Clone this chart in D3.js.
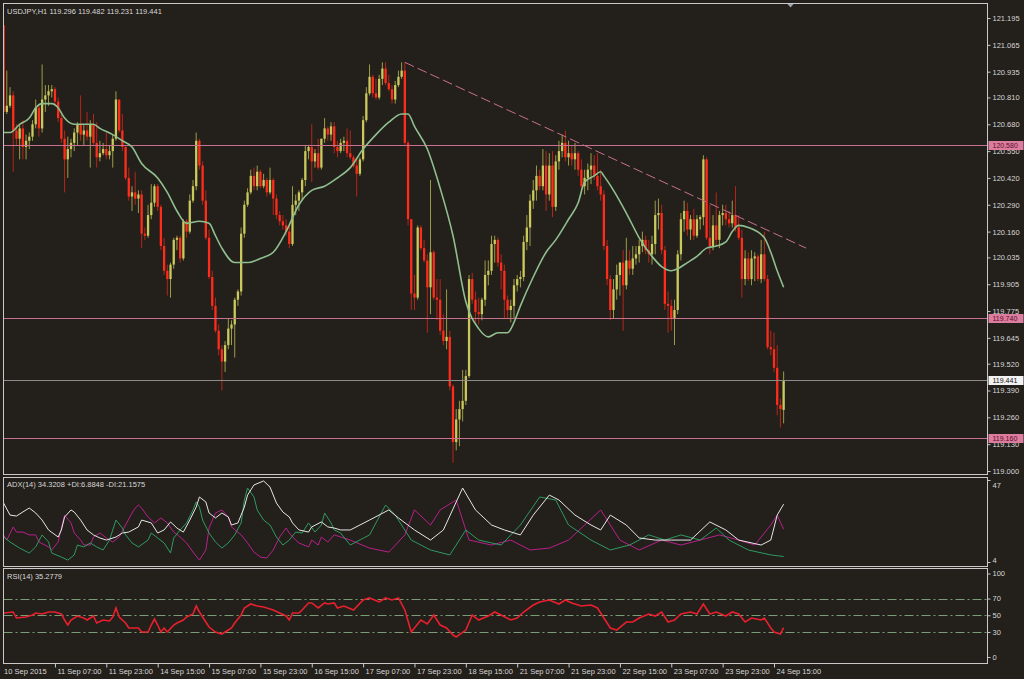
<!DOCTYPE html>
<html>
<head>
<meta charset="utf-8">
<script src="https://cdn.jsdelivr.net/npm/d3@7"></script>
<style>
  body { margin: 0; background: #231f1a; }
  svg text { font-family: "Liberation Sans", Arial, sans-serif; font-size: 7.5px; fill: #d8d8d8; }
</style>
</head>
<body>
<svg id="chart" width="1024" height="679"></svg>
<script>
// USDJPY H1 candles, [open, high, low, close], one per hour from 10 Sep 15:00
const candles = [
[121.16,121.16,120.72,120.74],[120.74,120.94,120.73,120.77],[120.77,120.86,120.76,120.82],[120.82,120.84,120.45,120.65],[120.65,120.68,120.58,120.61],
[120.61,120.68,120.51,120.66],[120.66,120.70,120.51,120.57],[120.57,120.63,120.51,120.60],[120.60,120.64,120.56,120.62],[120.62,120.70,120.60,120.68],
[120.68,120.80,120.66,120.76],[120.76,120.78,120.62,120.66],[120.66,120.97,120.64,120.80],[120.80,120.87,120.74,120.82],[120.82,120.87,120.77,120.84],
[120.84,120.87,120.81,120.85],[120.85,120.86,120.77,120.79],[120.79,120.81,120.69,120.71],[120.71,120.74,120.59,120.61],[120.61,120.65,120.35,120.51],
[120.51,120.62,120.42,120.56],[120.56,120.61,120.52,120.59],[120.59,120.66,120.55,120.64],[120.64,120.69,120.58,120.68],[120.68,120.82,120.60,120.63],
[120.63,120.68,120.58,120.65],[120.65,120.74,120.60,120.62],[120.62,120.70,120.47,120.68],[120.68,120.73,120.58,120.59],[120.59,120.69,120.47,120.52],
[120.52,120.60,120.50,120.54],[120.54,120.59,120.53,120.56],[120.56,120.64,120.51,120.53],[120.53,120.58,120.51,120.55],[120.55,120.63,120.47,120.61],
[120.61,120.84,120.60,120.80],[120.80,120.80,120.64,120.65],[120.65,120.73,120.55,120.57],[120.57,120.58,120.41,120.42],[120.42,120.47,120.31,120.33],
[120.33,120.38,120.26,120.35],[120.35,120.45,120.29,120.32],[120.32,120.36,120.25,120.34],[120.34,120.36,120.08,120.15],[120.15,120.18,120.12,120.14],
[120.14,120.29,120.13,120.24],[120.24,120.39,120.22,120.30],[120.30,120.39,120.28,120.38],[120.38,120.39,120.26,120.28],[120.28,120.29,120.07,120.09],
[120.09,120.13,119.95,119.97],[119.97,120.00,119.85,119.93],[119.93,120.01,119.84,120.00],[120.00,120.13,119.98,120.12],[120.12,120.14,120.07,120.13],
[120.13,120.14,120.01,120.03],[120.03,120.22,120.02,120.21],[120.21,120.22,120.13,120.16],[120.16,120.34,120.15,120.31],[120.31,120.41,120.30,120.38],
[120.38,120.64,120.36,120.60],[120.60,120.61,120.46,120.48],[120.48,120.50,120.29,120.31],[120.31,120.36,120.12,120.13],[120.13,120.17,119.93,119.94],
[119.94,119.97,119.78,119.80],[119.80,119.84,119.67,119.68],[119.68,119.71,119.56,119.59],[119.59,119.61,119.39,119.53],[119.53,119.63,119.48,119.61],
[119.61,119.74,119.59,119.69],[119.69,119.73,119.61,119.71],[119.71,119.84,119.55,119.83],[119.83,119.88,119.80,119.87],[119.87,120.18,119.85,120.15],
[120.15,120.31,120.13,120.29],[120.29,120.37,120.28,120.35],[120.35,120.46,120.34,120.43],[120.43,120.47,120.36,120.38],[120.38,120.48,120.36,120.45],
[120.45,120.46,120.37,120.38],[120.38,120.44,120.37,120.41],[120.41,120.42,120.33,120.35],[120.35,120.47,120.34,120.41],[120.41,120.42,120.24,120.32],
[120.32,120.34,120.22,120.24],[120.24,120.26,120.19,120.21],[120.21,120.24,120.17,120.19],[120.19,120.22,120.14,120.16],[120.16,120.19,120.08,120.10],
[120.10,120.38,120.09,120.29],[120.29,120.34,120.24,120.31],[120.31,120.36,120.26,120.35],[120.35,120.42,120.31,120.41],[120.41,120.58,120.38,120.55],
[120.55,120.58,120.51,120.57],[120.57,120.68,120.40,120.50],[120.50,120.56,120.47,120.54],[120.54,120.61,120.46,120.47],[120.47,120.61,120.46,120.61],
[120.61,120.71,120.59,120.66],[120.66,120.67,120.60,120.63],[120.63,120.69,120.60,120.67],[120.67,120.69,120.54,120.57],[120.57,120.60,120.52,120.55],
[120.55,120.61,120.54,120.59],[120.59,120.62,120.55,120.60],[120.60,120.66,120.52,120.54],[120.54,120.65,120.51,120.52],[120.52,120.53,120.47,120.48],
[120.48,120.51,120.33,120.44],[120.44,120.52,120.43,120.51],[120.51,120.72,120.50,120.70],[120.70,120.86,120.69,120.83],[120.83,120.97,120.82,120.91],
[120.91,120.92,120.81,120.83],[120.83,120.90,120.80,120.81],[120.81,120.92,120.80,120.90],[120.90,120.98,120.87,120.95],[120.95,120.98,120.87,120.88],
[120.88,120.92,120.84,120.85],[120.85,120.87,120.78,120.80],[120.80,120.89,120.78,120.87],[120.87,120.94,120.86,120.91],[120.91,120.98,120.90,120.94],
[120.94,120.98,120.58,120.59],[120.59,120.60,120.19,120.22],[120.22,120.22,119.78,119.86],[119.86,119.95,119.78,119.84],[119.84,120.19,119.83,120.18],
[120.18,120.19,120.07,120.08],[120.08,120.12,120.01,120.02],[120.02,120.05,119.67,119.89],[119.89,120.41,119.76,120.06],[120.06,120.07,119.83,119.84],
[119.84,119.93,119.73,119.83],[119.83,119.93,119.66,119.68],[119.68,119.76,119.61,119.63],[119.63,119.88,119.59,119.65],[119.65,119.68,119.39,119.41],
[119.41,119.42,119.04,119.14],[119.14,119.30,119.10,119.25],[119.25,119.34,119.12,119.30],[119.30,119.49,119.24,119.34],[119.34,119.49,119.32,119.46],
[119.46,119.95,119.45,119.93],[119.93,119.96,119.81,119.83],[119.83,119.87,119.72,119.77],[119.77,119.84,119.71,119.76],[119.76,119.84,119.73,119.83],
[119.83,120.02,119.80,119.95],[119.95,120.02,119.90,119.97],[119.97,120.14,119.95,120.10],[120.10,120.14,120.01,120.12],[120.12,120.13,119.99,120.01],
[120.01,120.05,119.88,119.97],[119.97,120.00,119.74,119.83],[119.83,119.85,119.74,119.78],[119.78,119.83,119.72,119.80],[119.80,119.93,119.74,119.90],
[119.90,119.95,119.87,119.93],[119.93,119.97,119.89,119.94],[119.94,120.14,119.92,120.11],[120.11,120.24,120.07,120.18],[120.18,120.34,120.09,120.31],
[120.31,120.41,120.27,120.36],[120.36,120.48,120.31,120.43],[120.43,120.46,120.36,120.38],[120.38,120.56,120.36,120.48],[120.48,120.55,120.26,120.34],
[120.34,120.54,120.31,120.48],[120.48,120.55,120.23,120.28],[120.28,120.53,120.26,120.50],[120.50,120.60,120.46,120.55],[120.55,120.63,120.52,120.59],
[120.59,120.65,120.50,120.52],[120.52,120.60,120.48,120.54],[120.54,120.58,120.48,120.51],[120.51,120.59,120.46,120.54],[120.54,120.55,120.43,120.46],
[120.46,120.51,120.36,120.38],[120.38,120.46,120.34,120.42],[120.42,120.49,120.36,120.46],[120.46,120.54,120.39,120.48],[120.48,120.53,120.41,120.43],
[120.43,120.54,120.36,120.38],[120.38,120.46,120.31,120.34],[120.34,120.36,120.07,120.09],[120.09,120.12,119.90,119.93],[119.93,119.95,119.73,119.78],
[119.78,119.93,119.74,119.88],[119.88,120.00,119.83,119.95],[119.95,120.01,119.85,120.01],[120.01,120.07,119.68,119.90],[119.90,120.13,119.88,120.02],
[120.02,120.07,119.95,119.98],[119.98,120.09,119.95,120.03],[120.03,120.09,120.00,120.05],[120.05,120.12,120.01,120.09],[120.09,120.16,120.06,120.12],
[120.12,120.14,120.05,120.07],[120.07,120.12,120.01,120.05],[120.05,120.14,120.00,120.10],[120.10,120.31,120.05,120.24],[120.24,120.32,120.17,120.25],
[120.25,120.29,120.05,120.07],[120.07,120.09,119.78,119.81],[119.81,119.87,119.67,119.80],[119.80,119.83,119.68,119.74],[119.74,119.83,119.61,119.78],
[119.78,120.07,119.76,120.05],[120.05,120.25,120.02,120.22],[120.22,120.31,120.16,120.26],[120.26,120.30,120.14,120.17],[120.17,120.24,120.12,120.22],
[120.22,120.27,120.12,120.14],[120.14,120.24,120.13,120.22],[120.22,120.24,120.17,120.23],[120.23,120.53,120.19,120.51],[120.51,120.52,120.12,120.13],
[120.13,120.29,120.05,120.09],[120.09,120.24,120.07,120.19],[120.19,120.35,120.09,120.12],[120.12,120.26,120.08,120.24],[120.24,120.29,120.19,120.25],
[120.25,120.29,120.19,120.22],[120.22,120.26,120.18,120.20],[120.20,120.31,120.18,120.24],[120.24,120.38,120.16,120.18],[120.18,120.24,120.12,120.13],
[120.13,120.17,119.84,119.93],[119.93,120.07,119.90,120.03],[120.03,120.06,119.92,119.93],[119.93,120.07,119.90,120.03],[120.03,120.06,119.92,120.04],
[120.04,120.05,119.92,119.93],[119.93,120.12,119.91,120.05],[120.05,120.16,119.92,119.93],[119.93,119.95,119.59,119.60],[119.60,119.68,119.56,119.59],
[119.59,119.67,119.48,119.50],[119.50,119.61,119.27,119.32],[119.32,119.35,119.21,119.30],[119.296,119.482,119.231,119.441]
];

// moving average, [bar, value]
const maPoints = [[0,120.64],[2,120.64],[5,120.68],[8,120.71],[10,120.76],[12,120.78],[15,120.78],[17,120.76],[19,120.71],[22,120.68],
[28,120.68],[30,120.66],[34,120.63],[37,120.60],[40,120.57],[43,120.49],[48,120.42],[51,120.35],[54,120.26],[57,120.20],[61,120.21],
[64,120.20],[66,120.14],[68,120.08],[72,120.01],[76,120.01],[80,120.03],[84,120.06],[88,120.16],[92,120.29],[96,120.36],[100,120.38],
[104,120.42],[108,120.47],[112,120.56],[116,120.63],[120,120.69],[124,120.73],[126,120.73],[128,120.67],[132,120.56],[136,120.37],
[140,120.14],[144,119.82],[148,119.69],[151,119.65],[154,119.67],[157,119.67],[159,119.72],[161,119.80],[165,119.94],[169,120.06],
[172,120.12],[176,120.22],[179,120.30],[181,120.40],[184,120.43],[186,120.45],[187,120.43],[190,120.36],[194,120.25],[198,120.13],
[202,120.04],[205,119.99],[208,119.97],[210,119.98],[213,120.01],[216,120.04],[219,120.08],[222,120.09],[225,120.11],[227,120.16],
[229,120.19],[232,120.18],[237,120.13],[239,120.06],[241,119.97],[243,119.89]];

// ADX(14) lines, [bar, value]
const adxPoints = [[0,34.9],[2,28.6],[4,28.1],[7,31.3],[8,32.3],[10,29.7],[12,26],[14,20.8],[17,17.1],[18,20.8],[19,27.6],[21,31.3],
[22,30.2],[24,26],[26,20.8],[28,18.2],[30,16.6],[32,15.5],[35,17.1],[37,19.2],[39,19.7],[42,22.4],[43,26],[46,24.5],[48,19.2],[50,20.8],
[52,25],[54,21.8],[56,19.7],[58,26],[60,32.8],[61,38.1],[63,35.5],[64,29.7],[66,27.1],[68,29.7],[70,27.6],[71,23.4],[73,24.5],[75,32.8],
[76,39.1],[78,44.4],[81,46.5],[83,43.3],[85,34.9],[87,30.2],[89,27.6],[90,24.5],[92,20.8],[95,19.7],[96,22.4],[99,25],[101,22.4],[103,21.8],
[105,20.8],[108,20.8],[114,26],[120,31.3],[123,27.1],[128,20.8],[133,15.5],[137,20.8],[143,42.8],[147,31.3],[152,23.4],[156,20.8],
[161,18.2],[165,28.6],[170,39.1],[173,36.5],[178,28.6],[183,23.4],[186,20.8],[189,28.6],[194,23.4],[198,16.6],[203,15.5],[208,15.5],
[214,15.5],[220,25],[225,20.8],[229,15.5],[236,12.9],[239,15.5],[241,28.6],[243,34.32]];
const plusDiPoints = [[0,17.1],[2,14.5],[5,11.3],[8,8.7],[10,11.9],[12,18.2],[14,14.5],[15,8.7],[18,6.6],[20,5],[22,7.7],[23,12.9],
[25,11.9],[27,14],[29,11.9],[31,10.3],[33,15.5],[35,26],[37,21.8],[38,18.2],[40,14],[42,11.9],[45,15.5],[46,19.2],[48,16.6],[50,14],
[52,8.7],[53,16.6],[55,20.8],[57,24.5],[59,31.3],[60,35.5],[61,32.8],[62,26],[64,19.2],[66,14.5],[68,11.3],[70,14],[72,18.2],[74,24.5],
[75,36.5],[76,42.8],[78,38.1],[79,31.3],[81,26],[83,23.4],[85,17.1],[87,12.9],[89,15.5],[91,19.7],[93,19.2],[95,24.5],[97,19.7],[99,23.4],
[100,29.7],[102,24.5],[103,20.8],[105,19.2],[108,12.9],[114,18.2],[119,33.9],[122,28.6],[127,15.5],[133,10.3],[139,7.7],[144,20.8],
[148,15.5],[155,12.9],[161,23.4],[167,38.1],[172,36.5],[176,23.4],[183,15.5],[189,10.3],[195,12.9],[201,18.2],[206,15.5],[211,18.2],
[217,15.5],[222,21.8],[226,15.5],[232,10.3],[239,7.7],[243,6.88]];
const minusDiPoints = [[0,18.2],[1,15.5],[3,22.4],[4,19.7],[6,19.7],[8,18.2],[10,18.2],[11,14.5],[14,11.9],[15,10.3],[17,14.5],[18,21.8],
[19,28.6],[21,24.5],[22,19.2],[24,15.5],[25,12.9],[27,12.9],[28,17.1],[30,19.2],[32,16.6],[34,14.5],[36,17.1],[38,23.4],[40,29.7],[41,32.3],
[42,33.9],[43,32.3],[45,27.6],[47,24.5],[49,27.1],[51,24.5],[53,19.7],[55,17.1],[57,14],[59,9.2],[61,5],[63,10.3],[64,21.8],[66,29.7],
[68,31.3],[70,27.6],[71,22.4],[74,18.2],[76,14],[78,9.2],[80,6.6],[82,6.1],[84,10.3],[86,17.1],[88,21.8],[89,19.2],[91,15.5],[92,14],
[95,11.9],[96,15.5],[98,12.9],[99,17.1],[101,14.5],[103,18.2],[105,17.1],[108,15.5],[114,11.3],[120,9.2],[125,18.2],[128,31.3],[133,23.4],
[136,31.3],[141,36.5],[145,15.5],[152,12.9],[158,15.5],[164,10.3],[170,11.3],[176,15.5],[181,23.4],[186,31.3],[189,23.4],[192,15.5],
[198,10.3],[205,15.5],[211,12.9],[217,15.5],[223,18.2],[229,15.5],[234,12.9],[239,23.4],[241,28.6],[243,21.16]];

// RSI(14), [bar, value]
const rsiPoints = [[0,52.7],[3,53.9],[4,46.7],[7,47.9],[9,50.3],[10,52.7],[12,51.5],[14,53.9],[16,53.9],[18,51.5],[19,44.3],[20,38.3],
[21,44.3],[23,49.1],[25,46.7],[26,44.3],[28,49.1],[29,40.7],[31,44.3],[33,43.1],[34,47.9],[35,58.7],[36,47.9],[38,40.7],[39,34.7],
[42,34.7],[43,29.9],[45,29.9],[46,38.3],[47,45.5],[48,38.3],[49,29.9],[50,34.7],[51,29.9],[53,38.3],[54,40.7],[56,44.3],[57,47.9],
[59,51.5],[60,61.1],[61,53.9],[63,41.9],[64,35.9],[66,29.9],[68,27.5],[70,32.3],[71,34.7],[72,40.7],[74,50.3],[75,58.7],[77,63.5],
[79,61.1],[81,59.9],[82,58.7],[84,56.3],[86,52.7],[88,49.1],[89,44.3],[90,52.7],[92,52.7],[93,56.3],[95,64.7],[96,64.7],[98,58.7],
[100,64.7],[101,63.5],[103,64.7],[104,58.7],[106,61.1],[109,56.3],[112,68.3],[114,70.7],[117,65.9],[119,70.7],[121,68.3],[123,70.7],
[125,56.3],[127,29.9],[128,34.7],[130,44.3],[132,39.5],[134,50.3],[136,38.3],[138,34.7],[140,26.3],[141,24],[144,32.3],[146,50.3],
[148,44.3],[151,49.1],[153,53.9],[155,50.3],[158,44.3],[160,46.7],[162,53.9],[165,62.3],[167,65.9],[170,68.3],[173,63.5],[175,68.3],
[177,64.7],[180,61.1],[183,62.3],[185,58.7],[187,46.7],[189,34.7],[191,32.3],[194,41.9],[196,41.9],[198,46.7],[201,51.5],[203,49.1],
[205,53.9],[207,41.9],[209,44.3],[211,51.5],[214,53.9],[216,51.5],[218,63.5],[220,51.5],[222,53.9],[225,49.1],[227,53.9],[229,51.5],
[231,41.9],[233,46.7],[236,44.3],[237,46.7],[239,34.7],[240,29.9],[242,27.5],[243,35.28]];

const priceTicks = [121.195, 121.065, 120.935, 120.810, 120.680, 120.550, 120.420, 120.290, 120.160,
  120.035, 119.905, 119.775, 119.645, 119.520, 119.390, 119.260, 119.130, 119.000];
const adxTicks = [47, 4];
const rsiTicks = [100, 70, 50, 30, 0];
const rsiLevels = [70, 50, 30];

const timeTickBars = [0, 16, 32, 48, 64, 80, 96, 112, 128, 144, 160, 176, 192, 208, 224, 240];
const timeTickLabels = ["10 Sep 2015", "11 Sep 07:00", "11 Sep 23:00", "14 Sep 15:00", "15 Sep 07:00",
  "15 Sep 23:00", "16 Sep 15:00", "17 Sep 07:00", "17 Sep 23:00", "18 Sep 15:00", "21 Sep 07:00",
  "21 Sep 23:00", "22 Sep 15:00", "23 Sep 07:00", "23 Sep 23:00", "24 Sep 15:00"];

const levelLines = [120.580, 119.740, 119.160];
const lastPrice = 119.441;
const trendLine = [[125, 120.98], [250, 120.08]];

const headerText = "USDJPY,H1  119.296 119.482 119.231 119.441";
const adxText = "ADX(14) 34.3208 +DI:6.8848 -DI:21.1575";
const rsiText = "RSI(14) 35.2779";

// ---------------------------------------------------------------

const svg = d3.select("body").select("svg#chart");

const colors = {
  bg: "#231f1a",
  frame: "#c9c9c9",
  bull: "#c9c95c",
  bullWick: "#9c9c48",
  bear: "#ff2c1b",
  bearWick: "#b3271a",
  ma: "#8fbf8f",
  level: "#c8708f",
  levelBox: "#dc7c9e",
  adx: "#e6e6e6",
  plusDi: "#2f9a62",
  minusDi: "#b81f8c",
  rsi: "#e8202e",
  rsiLevel: "#7a9c74"
};

const frameLeft = 3.5;
const frameRight = 987.5;
const panels = {
  main: { top: 3.5, bottom: 474.5 },
  adx: { top: 477.5, bottom: 566.5 },
  rsi: { top: 568.5, bottom: 663.5 }
};

let x = d3.scaleLinear()
  .domain([0, candles.length - 1])
  .range([3.6, 3.6 + 3.21 * (candles.length - 1)]);

let yPrice = d3.scaleLinear().domain([119, 121.195]).range([471, 18]);
let yAdx = d3.scaleLinear().domain([4, 47]).range([562, 480]);
let yRsi = d3.scaleLinear().domain([0, 100]).range([657, 573.5]);

svg.append("rect").attr("width", 1024).attr("height", 679).attr("fill", colors.bg);

// clip every panel to its frame
let defs = svg.append("defs");
Object.keys(panels).forEach(function(key) {
  let p = panels[key];
  defs.append("clipPath").attr("id", "clip-" + key)
    .append("rect")
    .attr("x", frameLeft + 0.5).attr("y", p.top + 0.5)
    .attr("width", frameRight - frameLeft - 1).attr("height", p.bottom - p.top - 1);
});

/*
 * Main price panel
 */
const mainPlot = svg.append("g").attr("id", "main").attr("clip-path", "url(#clip-main)");

mainPlot.selectAll("line.wick")
  .data(candles)
  .join("line")
  .attr("class", "wick")
  .attr("x1", (d, i) => x(i)).attr("x2", (d, i) => x(i))
  .attr("y1", d => yPrice(d[1])).attr("y2", d => yPrice(d[2]))
  .attr("stroke", d => d[3] >= d[0] ? colors.bullWick : colors.bearWick)
  .attr("stroke-width", 1);

mainPlot.selectAll("rect.body")
  .data(candles)
  .join("rect")
  .attr("class", "body")
  .attr("x", (d, i) => x(i) - 1.15)
  .attr("width", 2.3)
  .attr("y", d => yPrice(Math.max(d[0], d[3])))
  .attr("height", d => Math.max(1, Math.abs(yPrice(d[0]) - yPrice(d[3]))))
  .attr("fill", d => d[3] >= d[0] ? colors.bull : colors.bear);

mainPlot.selectAll("line.level")
  .data(levelLines)
  .join("line")
  .attr("class", "level")
  .attr("x1", frameLeft).attr("x2", frameRight)
  .attr("y1", d => Math.round(yPrice(d)) + 0.5).attr("y2", d => Math.round(yPrice(d)) + 0.5)
  .attr("stroke", colors.level).attr("stroke-width", 1);

mainPlot.append("line")
  .attr("x1", frameLeft).attr("x2", frameRight)
  .attr("y1", Math.round(yPrice(lastPrice)) + 0.5).attr("y2", Math.round(yPrice(lastPrice)) + 0.5)
  .attr("stroke", "#8c8c8c").attr("stroke-width", 1);

mainPlot.append("line")
  .attr("x1", x(trendLine[0][0])).attr("y1", yPrice(trendLine[0][1]))
  .attr("x2", x(trendLine[1][0])).attr("y2", yPrice(trendLine[1][1]))
  .attr("stroke", colors.level).attr("stroke-width", 1)
  .attr("stroke-dasharray", "10,4");

let maLine = d3.line()
  .x(d => x(d[0]))
  .y(d => yPrice(d[1]))
  .curve(d3.curveMonotoneX);

mainPlot.append("path")
  .datum(maPoints)
  .attr("d", maLine)
  .attr("fill", "none")
  .attr("stroke", colors.ma)
  .attr("stroke-width", 1.6);

svg.append("text").attr("x", 7).attr("y", 14).text(headerText);

// chart shift marker
svg.append("path")
  .attr("d", "M787,3.5 L794,3.5 L790.5,7.5 Z")
  .attr("fill", "#9aa3ad");

/*
 * ADX panel
 */
const adxPlot = svg.append("g").attr("id", "adx").attr("clip-path", "url(#clip-adx)");

let adxLine = d3.line().x(d => x(d[0])).y(d => yAdx(d[1]));

[[minusDiPoints, colors.minusDi], [plusDiPoints, colors.plusDi], [adxPoints, colors.adx]].forEach(function(s) {
  adxPlot.append("path")
    .datum(s[0])
    .attr("d", adxLine)
    .attr("fill", "none")
    .attr("stroke", s[1])
    .attr("stroke-width", 1);
});

svg.append("text").attr("x", 7).attr("y", 487).text(adxText);

/*
 * RSI panel
 */
const rsiPlot = svg.append("g").attr("id", "rsi").attr("clip-path", "url(#clip-rsi)");

rsiPlot.selectAll("line.rsi-level")
  .data(rsiLevels)
  .join("line")
  .attr("class", "rsi-level")
  .attr("x1", frameLeft).attr("x2", frameRight)
  .attr("y1", d => Math.round(yRsi(d)) + 0.5).attr("y2", d => Math.round(yRsi(d)) + 0.5)
  .attr("stroke", colors.rsiLevel).attr("stroke-width", 1)
  .attr("stroke-dasharray", "9,3,2,3");

let rsiLine = d3.line().x(d => x(d[0])).y(d => yRsi(d[1]));

rsiPlot.append("path")
  .datum(rsiPoints)
  .attr("d", rsiLine)
  .attr("fill", "none")
  .attr("stroke", colors.rsi)
  .attr("stroke-width", 1.6);

svg.append("text").attr("x", 7).attr("y", 579).text(rsiText);

/*
 * Frames and axes
 */
Object.keys(panels).forEach(function(key) {
  let p = panels[key];
  svg.append("rect")
    .attr("x", frameLeft).attr("y", p.top)
    .attr("width", frameRight - frameLeft).attr("height", p.bottom - p.top)
    .attr("fill", "none").attr("stroke", colors.frame).attr("stroke-width", 1);
});

let priceAxis = d3.axisRight(yPrice).tickValues(priceTicks).tickFormat(d3.format(".3f")).tickSize(3).tickPadding(2);
let adxAxis = d3.axisRight(yAdx).tickValues(adxTicks).tickFormat(d3.format("d")).tickSize(3).tickPadding(2);
let rsiAxis = d3.axisRight(yRsi).tickValues(rsiTicks).tickFormat(d3.format("d")).tickSize(3).tickPadding(2);

[priceAxis, adxAxis, rsiAxis].forEach(function(axis) {
  let g = svg.append("g").attr("class", "y-axis").attr("transform", translate(frameRight, 0)).call(axis);
  styleAxis(g);
});

// keep the ADX labels inside the window
svg.selectAll("g.y-axis").filter((d, i) => i === 1).selectAll(".tick text")
  .attr("dy", d => d === 47 ? "0.95em" : "0.1em");

let timeAxis = d3.axisBottom(x)
  .tickValues(timeTickBars)
  .tickFormat((d, i) => timeTickLabels[i])
  .tickSize(4)
  .tickPadding(1);

let xGroup = svg.append("g").attr("id", "x-axis").attr("transform", translate(0, panels.rsi.bottom)).call(timeAxis);
styleAxis(xGroup);
xGroup.selectAll(".tick text").attr("text-anchor", "start").attr("x", d => d === 0 ? 0 : 2);
xGroup.selectAll(".tick line").filter(d => d === 0).remove();

// price boxes on the right scale, drawn over the tick labels as in the terminal
levelLines.forEach(function(v) {
  priceBox(v, colors.levelBox, "#5a1026");
});
priceBox(lastPrice, "#f2f2f2", "#111111");

function priceBox(value, fill, textColor) {
  let yy = Math.round(yPrice(value)) + 0.5;
  svg.append("rect")
    .attr("x", frameRight + 1).attr("y", yy - 4.5)
    .attr("width", 35).attr("height", 9)
    .attr("fill", fill);
  svg.append("text")
    .attr("x", frameRight + 5).attr("y", yy).attr("dy", "0.33em")
    .style("fill", textColor)
    .style("font-size", "7px")
    .text(d3.format(".3f")(value));
}

function styleAxis(g) {
  g.select(".domain").remove();
  g.selectAll(".tick line").attr("stroke", colors.frame);
  g.selectAll(".tick text")
    .attr("fill", "#d8d8d8")
    .attr("font-family", "Liberation Sans, Arial, sans-serif")
    .attr("font-size", "7.5px");
}

/*
 * returns a translate string for the transform attribute
 */
function translate(x, y) {
  return 'translate(' + String(x) + ',' + String(y) + ')';
}
</script>
</body>
</html>
